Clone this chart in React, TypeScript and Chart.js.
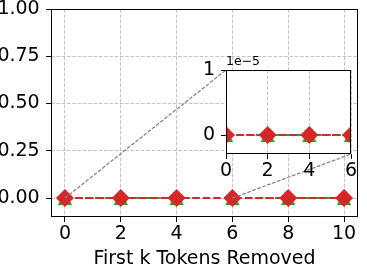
import React, { useEffect, useRef } from 'react';
import { Chart, registerables } from 'chart.js';
Chart.register(...registerables);

// ---- data ----
const kValues = [0, 2, 4, 6, 8, 10];
const redValues = [0, 0, 0, 0, 0, 0];
const greenValues = [0, 0, 0, 0, 0, 0];
const mainXTicks = [0, 2, 4, 6, 8, 10];
const mainYTicks = [0, 0.25, 0.5, 0.75, 1.0];
const insetXTicks = [0, 2, 4, 6];
const insetYTicks = [0, 1e-5];
const xTitle = 'First k Tokens Removed';
const insetOffsetText = '1e\u22125';

// ---- styles ----
const RED = '#d62728';
const GREEN = '#2ca02c';
const GRID = 'rgba(176,176,176,0.75)';
const FONT = 'DejaVu Sans';
const FS = 19;

const INSET_LEFT = 180;
const INSET_TOP = 40;
const INSET_W = 187;
const INSET_H = 150;

function makeDatasets(tri: HTMLCanvasElement) {
  return [
    {
      label: 'red',
      data: kValues.map((k, i) => ({ x: k, y: redValues[i] })),
      borderColor: RED,
      backgroundColor: RED,
      borderWidth: 2,
      borderDash: [7.4, 3.2],
      pointStyle: 'rectRot',
      pointRadius: 9,
      pointBorderWidth: 0,
      pointBackgroundColor: RED,
      pointBorderColor: RED,
    },
    {
      label: 'green',
      data: kValues.map((k, i) => ({ x: k, y: greenValues[i] })),
      borderColor: GREEN,
      backgroundColor: GREEN,
      borderWidth: 2,
      borderDash: [5, 5],
      pointStyle: tri,
      pointRadius: 8,
      pointBorderWidth: 0,
    },
  ];
}

const boxPlugin = {
  id: 'box',
  beforeDraw(chart: any, _a: any, opts: any) {
    if (opts && opts.fill) {
      const { left, top, right, bottom } = chart.chartArea;
      const ctx = chart.ctx;
      ctx.save();
      ctx.fillStyle = '#ffffff';
      ctx.fillRect(left, top, right - left, bottom - top);
      ctx.restore();
    }
  },
  afterDatasetsDraw(chart: any) {
    const { left, top, right, bottom } = chart.chartArea;
    const ctx = chart.ctx;
    ctx.save();
    ctx.strokeStyle = '#000';
    ctx.lineWidth = 1;
    ctx.setLineDash([]);
    ctx.strokeRect(Math.round(left) + 0.5, Math.round(top) + 0.5, Math.round(right - left) - 1, Math.round(bottom - top) - 1);
    ctx.restore();
  },
};

function axisCommon(tickList: number[], cb: (v: number) => string, pad: number) {
  return {
    type: 'linear' as const,
    afterBuildTicks: (s: any) => {
      s.ticks = tickList.map((v) => ({ value: v }));
    },
    grid: {
      color: GRID,
      lineWidth: 1,
      drawTicks: true,
      tickLength: 5,
      tickColor: '#000',
      tickWidth: 1,
      tickBorderDash: [],
    },
    border: { display: false, dash: [3.7, 1.6] },
    ticks: {
      font: { family: FONT, size: FS },
      color: '#000',
      padding: pad,
      maxRotation: 0,
      autoSkip: false,
      callback: (v: any) => cb(Number(v)),
    },
  };
}

export default function App() {
  const mainRef = useRef<HTMLCanvasElement>(null);
  const insetRef = useRef<HTMLCanvasElement>(null);

  useEffect(() => {
    document.body.style.margin = '0';
    const tri = document.createElement('canvas');
    tri.width = 16;
    tri.height = 16;
    const tctx = tri.getContext('2d')!;
    tctx.fillStyle = GREEN;
    tctx.beginPath();
    tctx.moveTo(8, 1);
    tctx.lineTo(15.2, 15);
    tctx.lineTo(0.8, 15);
    tctx.closePath();
    tctx.fill();

    const offsetPlugin = {
      id: 'offsetText',
      afterDraw(chart: any) {
        const ctx = chart.ctx;
        ctx.save();
        ctx.font = `12.5px "${FONT}"`;
        ctx.fillStyle = '#000';
        ctx.textAlign = 'left';
        ctx.textBaseline = 'alphabetic';
        ctx.fillText(insetOffsetText, chart.chartArea.left, chart.chartArea.top - 5);
        ctx.restore();
      },
    };

    const inset = new Chart(insetRef.current!, {
      type: 'line',
      data: { datasets: makeDatasets(tri) as any },
      options: {
        responsive: false,
        animation: false,
        events: [],
        layout: { padding: { left: 0, top: 30, right: 16, bottom: 0 } },
        plugins: { legend: { display: false }, tooltip: { enabled: false }, box: { fill: true } } as any,
        scales: {
          x: {
            ...axisCommon(insetXTicks, (v) => String(v), 1),
            min: 0,
            max: 6,
            afterFit: (s: any) => {
              s.height = 36;
              s.paddingLeft = 0;
              s.paddingRight = 0;
            },
          } as any,
          y: {
            ...axisCommon(insetYTicks, (v) => String(Math.round(v / 1e-5)), 6),
            min: -0.29e-5,
            max: 1e-5,
            afterFit: (s: any) => {
              s.width = 46;
              s.paddingTop = 0;
              s.paddingBottom = 0;
            },
          } as any,
        },
      },
      plugins: [boxPlugin, offsetPlugin],
    });

    const connectorPlugin = {
      id: 'connectors',
      afterDatasetsDraw(chart: any) {
        const xs = chart.scales.x;
        const ys = chart.scales.y;
        const ia = inset.chartArea;
        const p1 = { x: xs.getPixelForValue(insetXTicks[0]), y: ys.getPixelForValue(0) };
        const p2 = { x: xs.getPixelForValue(insetXTicks[insetXTicks.length - 1]), y: ys.getPixelForValue(0) };
        const c1 = { x: INSET_LEFT + ia.left, y: INSET_TOP + ia.top };
        const c2 = { x: INSET_LEFT + ia.right, y: INSET_TOP + ia.bottom };
        const ctx = chart.ctx;
        ctx.save();
        ctx.strokeStyle = '#858585';
        ctx.lineWidth = 1.25;
        ctx.setLineDash([3.7, 1.6]);
        ctx.beginPath();
        ctx.moveTo(p1.x, p1.y);
        ctx.lineTo(c1.x, c1.y);
        ctx.moveTo(p2.x, p2.y);
        ctx.lineTo(c2.x, c2.y);
        ctx.stroke();
        ctx.restore();
      },
    };

    const main = new Chart(mainRef.current!, {
      type: 'line',
      data: { datasets: makeDatasets(tri) as any },
      options: {
        responsive: false,
        animation: false,
        events: [],
        layout: { padding: { left: 0, top: 7.5, right: 2, bottom: 0 } },
        plugins: { legend: { display: false }, tooltip: { enabled: false } },
        scales: {
          x: {
            ...axisCommon(mainXTicks, (v) => String(v), 1),
            min: -0.5,
            max: 10.5,
            title: {
              display: true,
              text: xTitle,
              font: { family: FONT, size: FS, lineHeight: 0.8 },
              color: '#000',
              padding: { top: 0, bottom: 0 },
            },
            afterFit: (s: any) => {
              s.height = 50;
              s.paddingLeft = 0;
              s.paddingRight = 0;
            },
          } as any,
          y: {
            ...axisCommon(mainYTicks, (v) => v.toFixed(2), 6.3),
            min: -0.1,
            max: 1.0,
            afterFit: (s: any) => {
              s.width = 51;
              s.paddingTop = 0;
              s.paddingBottom = 0;
            },
          } as any,
        },
      },
      plugins: [boxPlugin, connectorPlugin],
    });

    return () => {
      main.destroy();
      inset.destroy();
    };
  }, []);

  return (
    <div style={{ position: 'relative', width: 367, height: 267 }}>
      <canvas ref={mainRef} width={367} height={267} style={{ position: 'absolute', left: 0, top: 0 }} />
      <canvas
        ref={insetRef}
        width={INSET_W}
        height={INSET_H}
        style={{ position: 'absolute', left: INSET_LEFT, top: INSET_TOP }}
      />
    </div>
  );
}
